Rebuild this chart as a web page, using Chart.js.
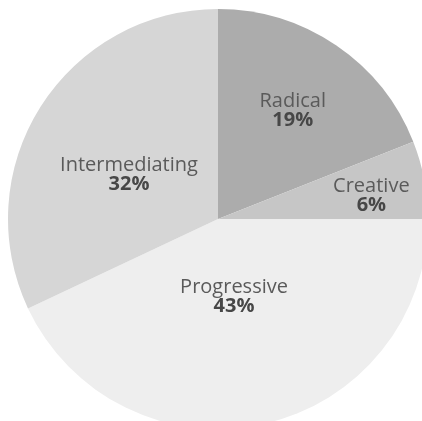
<!DOCTYPE html>
<html>
<head>
<meta charset="utf-8">
<script src="https://cdn.jsdelivr.net/npm/chart.js@4"></script>
<style>
  html, body { margin: 0; padding: 0; background: #fff; overflow: hidden; }
  #wrap { position: absolute; left: 0; top: 1px; width: 436px; height: 436px; }
</style>
</head>
<body>
<div id="wrap"><canvas id="pieChart"></canvas></div>
<script>
// slice data, clockwise from 12 o'clock
var labels = ['Radical', 'Creative', 'Progressive', 'Intermediating'];
var shares = [19, 6, 43, 32];
var sliceColors = ['#acacac', '#c6c6c6', '#eeeeee', '#d6d6d6'];
// where each label sits: fraction of radius, and nudge off the mid angle (deg)
var labelRadius = [0.633, 0.74, 0.37, 0.477];
var labelTurn = [0, 1.5, 0.7, -5.1];

// draws name + bold percent inside each slice
var sliceLabels = {
    id: 'sliceLabels',
    afterDatasetsDraw: function(chart) {
        var ctx = chart.ctx;
        var meta = chart.getDatasetMeta(0);
        ctx.save();
        ctx.textAlign = 'center';
        ctx.textBaseline = 'alphabetic';
        meta.data.forEach(function(arc, i) {
            var mid = (arc.startAngle + arc.endAngle) / 2 + labelTurn[i] * Math.PI / 180;
            var r = arc.outerRadius * labelRadius[i];
            var x = arc.x + Math.cos(mid) * r;
            var y = arc.y + Math.sin(mid) * r;
            ctx.fillStyle = '#5a5a5a';
            ctx.font = '20px "Open Sans"';
            ctx.fillText(labels[i], x, y - 2);
            ctx.fillStyle = '#474747';
            ctx.font = 'bold 20px "Open Sans"';
            ctx.fillText(shares[i] + '%', x, y + 17);
        });
        ctx.restore();
    }
};

var ctx = document.getElementById('pieChart').getContext('2d');
var pieChart = new Chart(ctx, {
    type: 'pie',
    data: {
        labels: labels,
        datasets: [{
            data: shares,
            backgroundColor: sliceColors,
            borderWidth: 0
        }]
    },
    options: {
        responsive: true,
        maintainAspectRatio: false,
        animation: false,
        layout: { padding: 8 },
        plugins: {
            legend: { display: false },
            tooltip: { enabled: false }
        }
    },
    plugins: [sliceLabels]
});
</script>
</body>
</html>
